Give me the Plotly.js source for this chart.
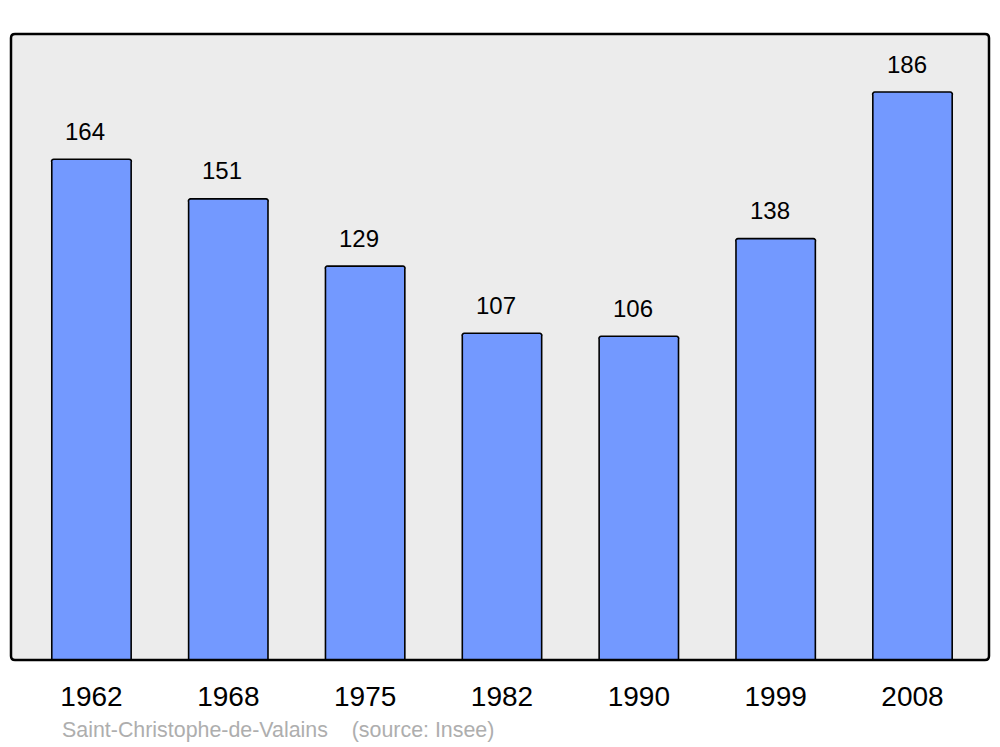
<!DOCTYPE html>
<html>
<head>
<meta charset="utf-8">
<script src="https://cdn.plot.ly/plotly-3.0.1.min.js"></script>
<style>html,body{margin:0;padding:0;background:#fff;}#chart{width:1000px;height:747px;}</style>
</head>
<body>
<div id="chart"></div>
<script>
const years = ['1962', '1968', '1975', '1982', '1990', '1999', '2008'];
const population = [164, 151, 129, 107, 106, 138, 186];
const commune = 'Saint-Christophe-de-Valains';
const source = '(source: Insee)';

const xpos = years.map((_, i) => i);

const trace = {
  type: 'bar',
  x: xpos,
  y: population,
  width: 0.58,
  marker: {color: '#7399ff', line: {color: '#000', width: 1.6}, cornerradius: 3},
  hoverinfo: 'x+y'
};

const annotations = population.map((v, i) => ({
  x: i, y: v, xref: 'x', yref: 'y', text: String(v), showarrow: false,
  yshift: 28, xshift: -6, font: {family: 'Liberation Sans, Arial, sans-serif', size: 24, color: '#000'}
}));
annotations.push({
  xref: 'paper', yref: 'paper', x: 0.0505, y: -0.1118, xanchor: 'left', yanchor: 'middle',
  text: commune + '\u00a0\u00a0\u00a0\u00a0' + source, showarrow: false,
  font: {family: 'Liberation Sans, Arial, sans-serif', size: 21.4, color: '#aeaeae'}
});

const rx = 4 / 978, ry = 4 / 626;
const framePath = `M ${rx},0 L ${1-rx},0 Q 1,0 1,${ry} L 1,${1-ry} Q 1,1 ${1-rx},1 L ${rx},1 Q 0,1 0,${1-ry} L 0,${ry} Q 0,0 ${rx},0 Z`;

const layout = {
  width: 1000, height: 747,
  margin: {l: 11, r: 11, t: 34, b: 87},
  paper_bgcolor: '#ffffff',
  plot_bgcolor: '#ececec',
  showlegend: false,
  bargap: 0,
  xaxis: {
    range: [-0.588, 6.559], tickvals: xpos, ticktext: years,
    showgrid: false, zeroline: false, showline: false,
    ticks: 'outside', ticklen: 11, tickcolor: 'rgba(0,0,0,0)',
    tickfont: {family: 'Liberation Sans, Arial, sans-serif', size: 28, color: '#000'},
    fixedrange: true
  },
  yaxis: {
    range: [0, 205], showgrid: false, zeroline: false, showline: false,
    showticklabels: false, ticks: '', fixedrange: true
  },
  shapes: [{
    type: 'path', xref: 'paper', yref: 'paper', path: framePath,
    line: {color: '#000', width: 2.5}, fillcolor: 'rgba(0,0,0,0)', layer: 'above'
  }],
  annotations: annotations
};

Plotly.newPlot('chart', [trace], layout, {displayModeBar: false, staticPlot: true});
</script>
</body>
</html>
